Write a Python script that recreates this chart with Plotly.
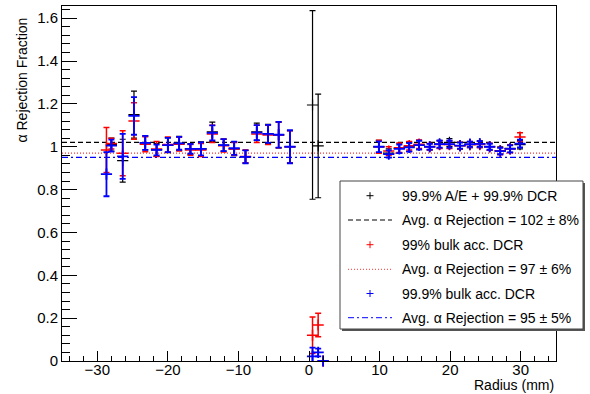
import plotly.graph_objects as go

# ---------------- data ----------------
radius = [-28.7, -28.0, -26.4, -24.8, -23.2, -21.6, -20.0, -18.4, -16.8, -15.3,
          -13.7, -12.1, -10.6, -9.0, -7.4, -5.8, -4.3, -2.7,
          0.5, 1.3, 2.0,
          9.9, 11.3, 12.8, 14.2, 15.6, 17.1, 18.5, 19.9, 21.4, 22.8,
          24.2, 25.6, 27.1, 28.5, 29.9]

ae_dcr = [None, 1.01, 0.935, 1.15, 1.018, 0.985, 1.008, 1.016, 0.99, 0.99,
          1.07, 1.008, 0.99, 0.953, 1.07, 1.06, 1.055, 1.0,
          1.195, 1.004, 0.0,
          1.0, 0.97, 0.992, 1.0, 1.008, 1.0, 1.012, 1.02, 1.005, 1.01,
          1.013, 1.0, 0.982, 0.992, 1.01]
ae_dcr_err = [None, 0.03, 0.10, 0.11, 0.033, 0.03, 0.035, 0.033, 0.025, 0.033,
              0.045, 0.028, 0.032, 0.03, 0.04, 0.045, 0.06, 0.075,
              0.44, 0.242, 0.0,
              0.03, 0.02, 0.022, 0.022, 0.022, 0.015, 0.018, 0.018, 0.016, 0.014,
              0.015, 0.016, 0.017, 0.018, 0.02]

dcr99 = [0.985, 1.015, 0.97, 1.12, 1.012, 0.99, 1.01, 1.012, 0.985, 0.985,
         1.06, 1.005, 0.99, 0.955, 1.06, 1.055, 1.055, 1.0,
         0.12, 0.168, 0.0,
         1.0, 0.98, 0.995, 1.005, 1.012, 1.0, 1.01, 1.01, 1.005, 1.01,
         1.01, 1.0, 0.98, 0.99, 1.045]
dcr99_err = [0.105, 0.025, 0.105, 0.085, 0.035, 0.035, 0.035, 0.032, 0.025, 0.03,
             0.04, 0.03, 0.03, 0.03, 0.04, 0.045, 0.06, 0.075,
             0.085, 0.055, 0.0,
             0.03, 0.02, 0.022, 0.02, 0.02, 0.015, 0.018, 0.018, 0.016, 0.014,
             0.015, 0.016, 0.017, 0.018, 0.02]

dcr999 = [0.872, 1.005, 0.955, 1.144, 1.018, 0.985, 1.008, 1.016, 0.99, 0.99,
          1.065, 1.008, 0.993, 0.953, 1.066, 1.06, 1.056, 1.0,
          0.022, 0.04, 0.0,
          1.0, 0.966, 0.99, 0.997, 1.008, 1.0, 1.012, 1.012, 1.005, 1.012,
          1.013, 1.0, 0.98, 0.99, 1.015]
dcr999_err = [0.103, 0.028, 0.105, 0.088, 0.033, 0.025, 0.033, 0.03, 0.022, 0.03,
              0.035, 0.028, 0.031, 0.03, 0.035, 0.042, 0.06, 0.077,
              0.04, 0.018, 0.0,
              0.025, 0.017, 0.02, 0.02, 0.02, 0.013, 0.016, 0.016, 0.014, 0.012,
              0.013, 0.014, 0.015, 0.016, 0.018]

avg_values = [1.02, 0.97, 0.95]
x_range = [-35, 35]
y_range = [0, 1.657]
x_ticks = [-30, -20, -10, 0, 10, 20, 30]
y_ticks = [0, 0.2, 0.4, 0.6, 0.8, 1.0, 1.2, 1.4, 1.6]
y_ticklabels = ["0", "0.2", "0.4", "0.6", "0.8", "1", "1.2", "1.4", "1.6"]

legend_labels = ["99.9% A/E + 99.9% DCR",
                 "Avg. \u03b1 Rejection = 102 \u00b1 8%",
                 "99% bulk acc. DCR",
                 "Avg. \u03b1 Rejection = 97 \u00b1 6%",
                 "99.9% bulk acc. DCR",
                 "Avg. \u03b1 Rejection = 95 \u00b1 5%"]

# ---------------- layout geometry (pixels) ----------------
W, H = 590, 394
ML, MR, MT, MB = 62, 34, 6, 33
PW = W - ML - MR
PH = H - MT - MB
FONT = "Liberation Sans, Arial, Helvetica, sans-serif"


def px(xp):
    return (xp - ML) / PW


def py(yp):
    return (H - MB - yp) / PH


def clean(xs, ys, es):
    out = [(a, b, c) for a, b, c in zip(xs, ys, es) if b is not None]
    return [o[0] for o in out], [o[1] for o in out], [o[2] for o in out]


fig = go.Figure()

# average lines
line_styles = [("black", "5px,3px", 1.2), ("#ff3030", "1px,2px", 1.2), ("blue", "6px,3px,2px,3px", 1.2)]
for val, (col, dash, w) in zip(avg_values, line_styles):
    fig.add_trace(go.Scatter(x=x_range, y=[val, val], mode="lines",
                             line=dict(color=col, dash=dash, width=w),
                             hoverinfo="skip", showlegend=False))

series = [
    (ae_dcr, ae_dcr_err, "black", 1.2),
    (dcr99, dcr99_err, "red", 1.5),
    (dcr999, dcr999_err, "blue", 1.8),
]
for ys, es, col, th in series:
    xs, yv, ev = clean(radius, ys, es)
    fig.add_trace(go.Scatter(
        x=xs, y=yv, mode="markers",
        marker=dict(symbol="cross-thin", size=8, line=dict(color=col, width=th), color=col),
        error_y=dict(type="data", array=ev, visible=True, color=col, thickness=th, width=3),
        cliponaxis=False, showlegend=False))

# ---------------- legend (drawn) ----------------
shapes = []
annotations = []
bx0, bx1, by0, by1 = 340, 583, 181, 329
shapes.append(dict(type="line", xref="paper", yref="paper", x0=px(bx1 + 1), x1=px(bx1 + 1),
                   y0=py(by0 + 2), y1=py(by1 + 1), line=dict(color="#555555", width=2)))
shapes.append(dict(type="line", xref="paper", yref="paper", x0=px(bx0 + 2), x1=px(bx1 + 2),
                   y0=py(by1 + 1), y1=py(by1 + 1), line=dict(color="#555555", width=2)))
shapes.append(dict(type="rect", xref="paper", yref="paper", x0=px(bx0), x1=px(bx1),
                   y0=py(by1), y1=py(by0), line=dict(color="#444444", width=1), fillcolor="white"))

rows = [195.7, 220.0, 244.7, 269.3, 293.5, 317.7]
marker_cols = ["black", "red", "blue"]
for i, (label, yr) in enumerate(zip(legend_labels, rows)):
    if i % 2 == 0:
        col = marker_cols[i // 2]
        shapes.append(dict(type="line", xref="paper", yref="paper", x0=px(366.5), x1=px(373.5),
                           y0=py(yr), y1=py(yr), line=dict(color=col, width=1)))
        shapes.append(dict(type="line", xref="paper", yref="paper", x0=px(370), x1=px(370),
                           y0=py(yr - 3.5), y1=py(yr + 3.5), line=dict(color=col, width=1)))
    else:
        col, dash, w = line_styles[i // 2]
        shapes.append(dict(type="line", xref="paper", yref="paper", x0=px(348), x1=px(392),
                           y0=py(yr), y1=py(yr), line=dict(color=col, width=1, dash=dash)))
    annotations.append(dict(text=label, xref="paper", yref="paper", x=px(400), y=py(yr),
                            xanchor="left", yanchor="middle", showarrow=False,
                            font=dict(family=FONT, size=14, color="black")))

# axis titles
annotations.append(dict(text="Radius (mm)", xref="paper", yref="paper", x=px(556), y=py(385),
                        xanchor="right", yanchor="middle", showarrow=False,
                        font=dict(family=FONT, size=14, color="black")))
annotations.append(dict(text="\u03b1 Rejection Fraction", xref="paper", yref="paper", x=px(22), y=py(16),
                        xanchor="center", yanchor="top", textangle=-90, showarrow=False,
                        font=dict(family=FONT, size=14, color="black")))

fig.update_layout(
    width=W, height=H,
    margin=dict(l=ML, r=MR, t=MT, b=MB, pad=0),
    paper_bgcolor="white", plot_bgcolor="white",
    showlegend=False,
    shapes=shapes, annotations=annotations,
    font=dict(family=FONT, size=15, color="black"),
)
fig.update_xaxes(range=x_range, tickvals=x_ticks, ticks="inside", ticklen=10, tickwidth=1,
                 tickcolor="black", showline=True, mirror=True, linecolor="black", linewidth=1,
                 showgrid=False, zeroline=False, tickfont=dict(family=FONT, size=15),
                 ticklabelstandoff=-5,
                 minor=dict(ticks="inside", dtick=2, tick0=0, ticklen=5, tickcolor="black", showgrid=False))
fig.update_yaxes(range=y_range, tickvals=y_ticks, ticktext=y_ticklabels, ticks="inside", ticklen=15,
                 tickwidth=1, tickcolor="black", showline=True, mirror=True, linecolor="black",
                 linewidth=1, showgrid=False, zeroline=False, tickfont=dict(family=FONT, size=15),
                 minor=dict(ticks="inside", dtick=0.04, tick0=0, ticklen=8, tickcolor="black", showgrid=False))

fig.write_html("out.html")
